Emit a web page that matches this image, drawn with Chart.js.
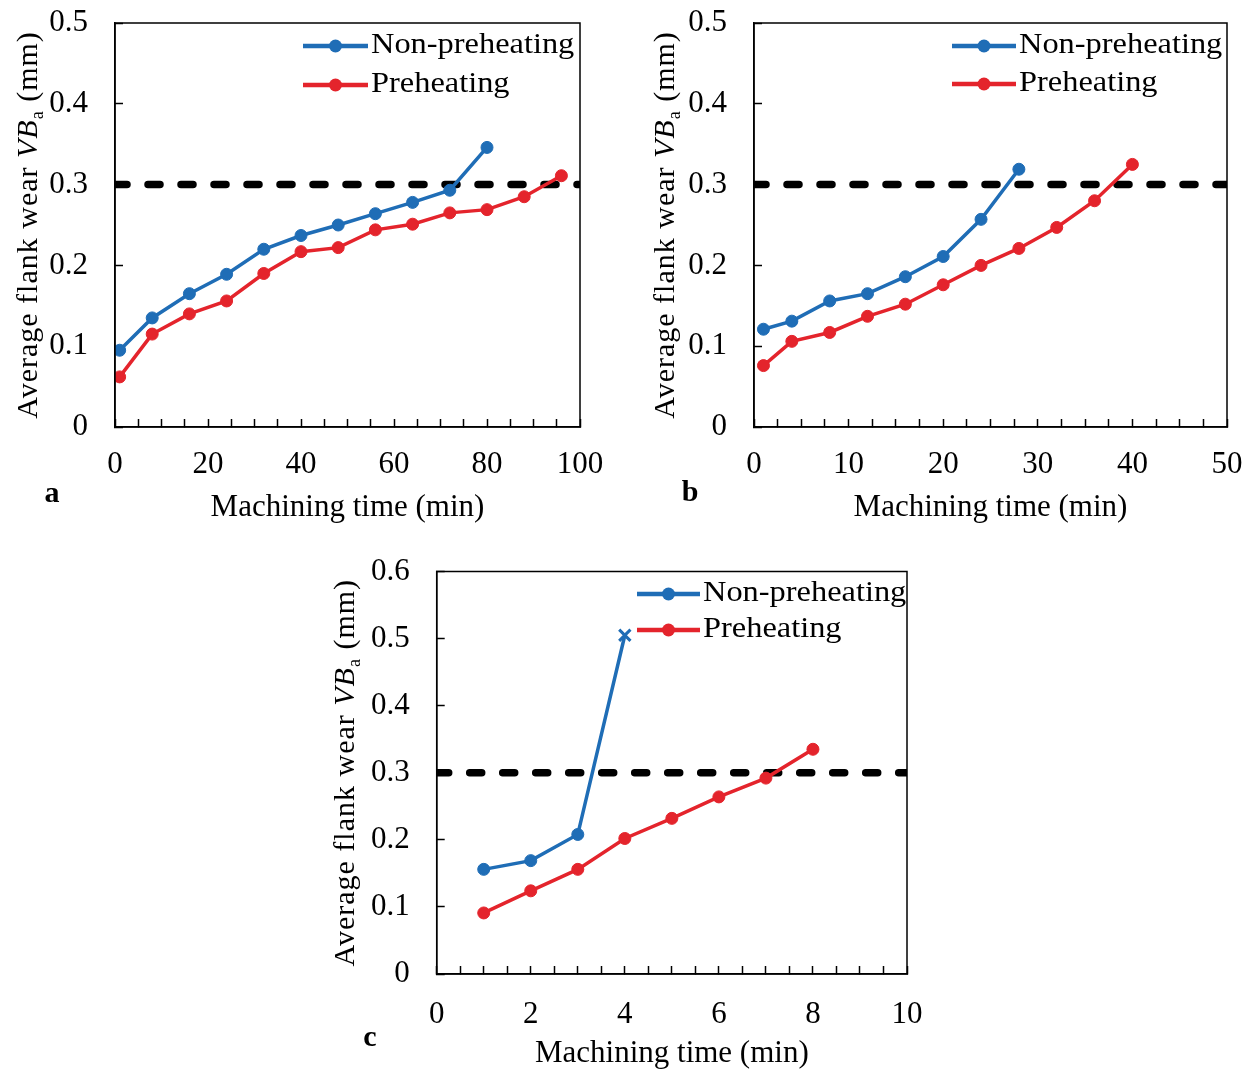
<!DOCTYPE html>
<html><head><meta charset="utf-8">
<script src="https://cdn.jsdelivr.net/npm/chart.js@4.4.0/dist/chart.umd.min.js"></script>
<style>
html,body{margin:0;padding:0;background:#fff;}
#wrap{position:relative;width:1254px;height:1072px;overflow:hidden;background:#fff;}
canvas{position:absolute;}
</style></head><body>
<div id="wrap">
<canvas id="cA" width="627" height="540" style="left:0px;top:0px"></canvas>
<canvas id="cB" width="627" height="540" style="left:627px;top:0px"></canvas>
<canvas id="cC" width="627" height="532" style="left:320px;top:540px"></canvas>
</div>
<script>
// ---------------- data ----------------
const seriesLabels = ['Non-preheating', 'Preheating'];
const xTitle = 'Machining time (min)';
const yTitleParts = ['Average flank wear ', 'VB', 'a', ' (mm)'];
const panelLetters = ['a', 'b', 'c'];
const wearLimit = 0.3;

const timeA_non = [1, 8, 16, 24, 32, 40, 48, 56, 64, 72, 80];
const wearA_non = [0.095, 0.135, 0.165, 0.189, 0.220, 0.237, 0.250, 0.264, 0.278, 0.293, 0.346];
const timeA_pre = [1, 8, 16, 24, 32, 40, 48, 56, 64, 72, 80, 88, 96];
const wearA_pre = [0.062, 0.115, 0.140, 0.156, 0.190, 0.217, 0.222, 0.244, 0.251, 0.265, 0.269, 0.285, 0.311];

const timeB_non = [1, 4, 8, 12, 16, 20, 24, 28];
const wearB_non = [0.121, 0.131, 0.156, 0.165, 0.186, 0.211, 0.257, 0.319];
const timeB_pre = [1, 4, 8, 12, 16, 20, 24, 28, 32, 36, 40];
const wearB_pre = [0.076, 0.106, 0.117, 0.137, 0.152, 0.176, 0.200, 0.221, 0.247, 0.280, 0.325];

const timeC_non = [1, 2, 3, 4];
const wearC_non = [0.156, 0.169, 0.208, 0.505];
const markerC_non = ['circle', 'circle', 'circle', 'crossRot'];
const timeC_pre = [1, 2, 3, 4, 5, 6, 7, 8];
const wearC_pre = [0.091, 0.124, 0.156, 0.202, 0.232, 0.264, 0.292, 0.335];

// axis ranges: [max, minor step, label step]
const xAxisA = [100, 5, 20];
const xAxisB = [50, 2.5, 10];
const xAxisC = [10, 0.5, 2];
const yAxisA = [0.5, 0.1];
const yAxisB = [0.5, 0.1];
const yAxisC = [0.6, 0.1];

// ---------------- style ----------------
const BLUE = '#1f6db6';
const RED = '#e4242c';
const FONT = '"Liberation Serif", "Times New Roman", serif';
Chart.defaults.font.family = FONT;
Chart.defaults.color = '#000';

const pts = (xs, ys) => xs.map((x, i) => ({x: x, y: ys[i]}));

const decor = {
  id: 'decor',
  afterDraw(chart, args, o) {
    const ctx = chart.ctx;
    const ca = chart.chartArea;
    ctx.save();
    // frame
    ctx.strokeStyle = '#000';
    ctx.lineWidth = 1.5;
    ctx.strokeRect(ca.left, ca.top, ca.right - ca.left, ca.bottom - ca.top);
    // legend
    const ds = chart.data.datasets.filter(d => seriesLabels.includes(d.label));
    ds.forEach((d, i) => {
      const y = o.legend.rows[i];
      ctx.strokeStyle = d.borderColor;
      ctx.lineWidth = 4.5;
      ctx.beginPath();
      ctx.moveTo(o.legend.x1, y);
      ctx.lineTo(o.legend.x2, y);
      ctx.stroke();
      ctx.fillStyle = d.borderColor;
      ctx.beginPath();
      ctx.arc((o.legend.x1 + o.legend.x2) / 2, y, 6.5, 0, Math.PI * 2);
      ctx.fill();
      ctx.save();
      ctx.translate(o.legend.tx, y - 1);
      ctx.scale(1.08, 1);
      ctx.fillStyle = '#000';
      ctx.font = '30px ' + FONT;
      ctx.textAlign = 'left';
      ctx.textBaseline = 'middle';
      ctx.fillText(d.label, 0, 0);
      ctx.restore();
    });
    // y title (rotated, with italic VB and subscript a)
    const parts = [
      {t: yTitleParts[0], f: '30px ' + FONT, dy: 0},
      {t: yTitleParts[1], f: 'italic 30px ' + FONT, dy: 0},
      {t: yTitleParts[2], f: '18px ' + FONT, dy: 6},
      {t: yTitleParts[3], f: '30px ' + FONT, dy: 0}
    ];
    ctx.translate(o.ytitle.x, (ca.top + ca.bottom) / 2);
    ctx.rotate(-Math.PI / 2);
    ctx.textAlign = 'left';
    ctx.textBaseline = 'alphabetic';
    ctx.fillStyle = '#000';
    try { ctx.letterSpacing = '1px'; } catch (e) {}
    let total = 0;
    parts.forEach(p => { ctx.font = p.f; p.w = ctx.measureText(p.t).width; total += p.w; });
    let cx = -total / 2;
    parts.forEach(p => { ctx.font = p.f; ctx.fillText(p.t, cx, 10 + p.dy); cx += p.w; });
    ctx.restore();
    // panel letter
    ctx.save();
    ctx.font = 'bold 30px ' + FONT;
    ctx.fillStyle = '#000';
    ctx.textAlign = 'center';
    ctx.textBaseline = 'middle';
    ctx.fillText(o.panel.text, o.panel.x, o.panel.y);
    ctx.restore();
  }
};

function zeroPad(s) { s.paddingTop = 0; s.paddingBottom = 0; s.paddingLeft = 0; s.paddingRight = 0; }

function makeChart(id, c) {
  const datasets = [
    {
      label: seriesLabels[0], data: c.non, borderColor: BLUE, backgroundColor: BLUE,
      borderWidth: 3.5, pointRadius: c.nonRadius || 6, pointBorderWidth: c.nonBorder || 1,
      pointStyle: c.nonStyle || 'circle', pointBackgroundColor: BLUE, pointBorderColor: BLUE, order: 1
    },
    {
      label: seriesLabels[1], data: c.pre, borderColor: RED, backgroundColor: RED,
      borderWidth: 3.5, pointRadius: 6, pointBorderWidth: 1,
      pointBackgroundColor: RED, pointBorderColor: RED, order: 2
    },
    {
      label: 'limit', data: [{x: 0, y: wearLimit}, {x: c.xAx[0], y: wearLimit}],
      borderColor: '#000', borderWidth: 7.5, borderDash: [12, 21], borderCapStyle: 'round',
      pointRadius: 0, order: 3
    }
  ];
  return new Chart(document.getElementById(id), {
    type: 'line',
    data: {datasets},
    plugins: [decor],
    options: {
      responsive: false, animation: false, events: [],
      layout: {padding: c.pad},
      plugins: {
        legend: {display: false}, tooltip: {enabled: false},
        decor: {legend: c.legend, ytitle: c.ytitle, panel: c.panel}
      },
      scales: {
        x: {
          type: 'linear', min: 0, max: c.xAx[0],
          afterFit(s) { s.height = c.xH; zeroPad(s); },
          ticks: {
            stepSize: c.xAx[1], autoSkip: false, maxRotation: 0, minRotation: 0, maxTicksLimit: 100,
            padding: c.xTickPad, color: '#000', font: {size: 31},
            callback: (v) => {
              const r = v / c.xAx[2];
              return Math.abs(r - Math.round(r)) < 1e-6 ? String(Math.round(v)) : '';
            }
          },
          grid: {drawOnChartArea: false, drawTicks: true, tickLength: -8, tickColor: '#000', tickWidth: 1.5},
          border: {display: true, color: '#000', width: 1.5},
          title: {display: true, text: xTitle, font: {size: 31}, color: '#000', padding: {top: 0, bottom: c.xTitlePad}}
        },
        y: {
          type: 'linear', min: 0, max: c.yAx[0],
          afterFit(s) { s.width = c.yW; zeroPad(s); },
          ticks: {
            stepSize: c.yAx[1], autoSkip: false, padding: 35, color: '#000', font: {size: 31},
            callback: (v) => { const r = Math.round(v * 10) / 10; return r === 0 ? '0' : r.toFixed(1); }
          },
          grid: {drawOnChartArea: false, drawTicks: true, tickLength: -8, tickColor: '#000', tickWidth: 1.5},
          border: {display: true, color: '#000', width: 1.5}
        }
      }
    }
  });
}

makeChart('cA', {
  non: pts(timeA_non, wearA_non), pre: pts(timeA_pre, wearA_pre),
  xAx: xAxisA, yAx: yAxisA,
  pad: {left: 0, top: 23, right: 47, bottom: 0}, yW: 115, xH: 113, xTickPad: 27.5, xTitlePad: 14,
  legend: {x1: 303, x2: 368, tx: 371, rows: [46, 85]},
  ytitle: {x: 27}, panel: {text: panelLetters[0], x: 52, y: 494}
});
makeChart('cB', {
  non: pts(timeB_non, wearB_non), pre: pts(timeB_pre, wearB_pre),
  xAx: xAxisB, yAx: yAxisB,
  pad: {left: 0, top: 23, right: 27, bottom: 0}, yW: 127, xH: 113, xTickPad: 27.5, xTitlePad: 14,
  legend: {x1: 325, x2: 389, tx: 392, rows: [46, 84]},
  ytitle: {x: 37}, panel: {text: panelLetters[1], x: 63, y: 493}
});
makeChart('cC', {
  non: pts(timeC_non, wearC_non), pre: pts(timeC_pre, wearC_pre),
  nonStyle: markerC_non, nonRadius: [6, 6, 6, 8], nonBorder: [1, 1, 1, 3],
  xAx: xAxisC, yAx: yAxisC,
  pad: {left: 0, top: 31.5, right: 40, bottom: 0}, yW: 116.7, xH: 98, xTickPad: 30.5, xTitlePad: 0,
  legend: {x1: 317, x2: 380, tx: 383, rows: [54, 90]},
  ytitle: {x: 24}, panel: {text: panelLetters[2], x: 50, y: 498}
});
</script>
</body></html>
